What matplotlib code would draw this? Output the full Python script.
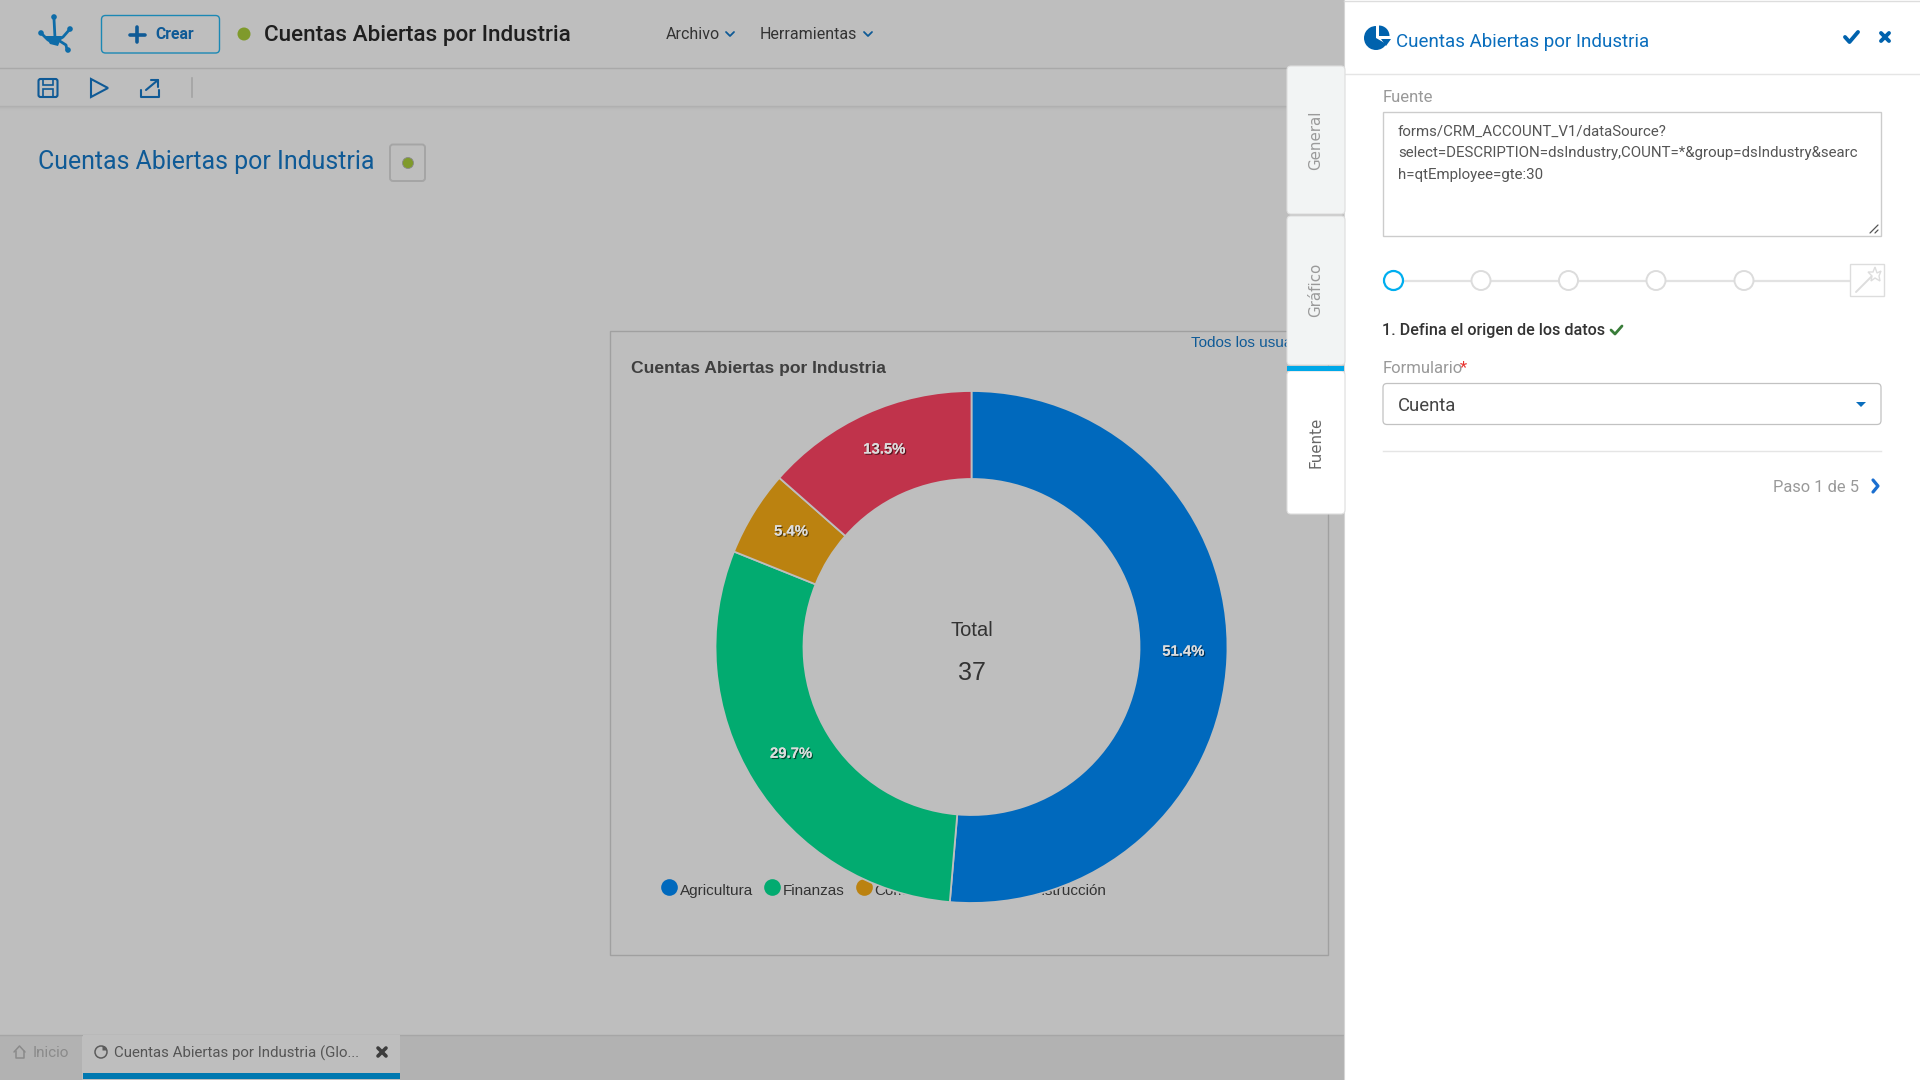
import matplotlib
matplotlib.use("Agg")
import matplotlib.pyplot as plt
import matplotlib.patheffects as pe
from matplotlib.lines import Line2D
from matplotlib.patches import Circle, FancyBboxPatch, Polygon, Rectangle, Wedge

plt.rcParams["font.family"] = ["Roboto", "DejaVu Sans"]

# chart data
industries = ["Agricultura", "Finanzas", "Comunicaciones", "Construcción"]
accounts = [19, 11, 2, 5]
slice_colors = ["#0069bd", "#02ab70", "#bb8210", "#c0334b"]
chart_title = "Cuentas Abiertas por Industria"
total_label = "Total"

# panel text
source_lines = [
    "forms/CRM_ACCOUNT_V1/dataSource?",
    "select=DESCRIPTION=dsIndustry,COUNT=*&group=dsIndustry&searc",
    "h=qtEmployee=gte:30",
]
side_tabs = ["General", "Gráfico", "Fuente"]

DIM = "#bebebe"
fig = plt.figure(figsize=(19.2, 10.8), dpi=100, facecolor=DIM)


def pixel_axes(z):
    ax = fig.add_axes([0, 0, 1, 1], zorder=z)
    ax.set_xlim(0, 1920)
    ax.set_ylim(1080, 0)
    ax.axis("off")
    ax.patch.set_alpha(0)
    return ax


def box(ax, x0, y0, x1, y1, fc="none", ec="none", lw=1.0, r=0, z=2):
    if r:
        p = FancyBboxPatch((x0 + r, y0 + r), x1 - x0 - 2 * r, y1 - y0 - 2 * r,
                           boxstyle=f"round,pad={r}", fc=fc, ec=ec, lw=lw, zorder=z)
    else:
        p = Rectangle((x0, y0), x1 - x0, y1 - y0, fc=fc, ec=ec, lw=lw, zorder=z)
    ax.add_patch(p)


def stroke(ax, xs, ys, color, lw=1.5, z=4):
    ax.plot(xs, ys, color=color, lw=lw, zorder=z, solid_capstyle="round",
            solid_joinstyle="round")


def label(ax, x, y, s, size, color, ha="left", weight="normal", family=None, rot=0, z=5):
    kw = {"family": family} if family else {}
    return ax.text(x, y, s, fontsize=size, color=color, ha=ha, va="center",
                   fontweight=weight, rotation=rot, zorder=z, **kw)


def dot(ax, x, y, r, fc, ec="none", lw=1.0, z=4):
    ax.add_patch(Circle((x, y), r, fc=fc, ec=ec, lw=lw, zorder=z))


back = pixel_axes(0)

# top bar
back.plot([0, 1344], [68, 68], color="#a9a9a9", lw=1)
for i, c in enumerate(["#b0b0b0", "#b5b5b5", "#b9b9b9", "#bcbcbc"]):
    back.plot([0, 1344], [106 + i, 106 + i], color=c, lw=1)

# logo
logo_blue = "#0e6ca8"
stroke(back, [54, 55, 66, 67], [19, 38, 45, 50], logo_blue, 2)
stroke(back, [41, 48, 55, 63, 70], [33, 40, 42, 37, 29], logo_blue, 2)
back.add_patch(Polygon([[45, 36], [62, 36], [58, 46], [50, 44]], fc=logo_blue, ec="none", zorder=4))
for lx, ly, lr in [(54, 17, 2.8), (70, 29, 2.8), (41, 33, 2.8), (68, 50, 2.8)]:
    dot(back, lx, ly, lr, logo_blue)

# crear button
box(back, 101.5, 15.5, 219.5, 53, ec="#1b88b4", lw=1.0, r=4)
stroke(back, [137, 137], [27, 42], "#0f5a96", 2.6)
stroke(back, [130, 145], [34.5, 34.5], "#0f5a96", 2.6)
label(back, 155, 34.5, "Crear", 11.3, "#0f5a96", weight="bold")
dot(back, 244, 34, 6.5, "#7f9a2b")
label(back, 264, 35, chart_title, 16.2, "#1f1f1f", weight="medium")
label(back, 666, 34.5, "Archivo", 11.5, "#333333")
label(back, 760, 34.5, "Herramientas", 11.5, "#333333")
for cx in (730, 868):
    stroke(back, [cx - 4, cx, cx + 4], [32, 36, 32], "#0f5a96", 1.3)

# toolbar icons
tb = "#0f5a96"
box(back, 38.5, 79, 57.5, 97, ec=tb, lw=1.5, r=2)
box(back, 43, 79, 53, 85, ec=tb, lw=1.2)
box(back, 43, 89, 53, 97, ec=tb, lw=1.2)
back.add_patch(Polygon([[91, 79], [91, 97], [108, 88]], fc="none", ec=tb, lw=1.5, zorder=4))
stroke(back, [141, 141, 159, 159], [90, 97, 97, 90], tb, 1.5)
stroke(back, [146, 158], [90, 80], tb, 1.5)
stroke(back, [151, 158, 158], [80, 80, 87], tb, 1.5)
back.plot([192, 192], [78, 97], color="#a3a3a3", lw=1.2)

# page heading
label(back, 38.5, 161.5, chart_title, 17.95, "#0f5a96")
box(back, 390, 144.5, 425, 181, ec="#a5a5a5", lw=1.4, r=3)
dot(back, 408, 163, 5.5, "#7f9a2b", ec="#8a8a8a", lw=0.6)

# chart card
box(back, 610, 331, 1328, 955, ec="#a0a0a0", lw=1)
label(back, 631, 369, chart_title, 12.6, "#3f3f3f", weight="bold", family="Liberation Sans")
label(back, 1191, 343, "Todos los usuarios", 11, "#0f5a96", family="Liberation Sans")

# legend sits behind the donut, as in the app
handles = [Line2D([], [], ls="none", marker="o", ms=12, mfc=c, mec="none") for c in slice_colors]
leg = back.legend(handles, industries, ncol=4, frameon=False, loc="center left",
                  bbox_to_anchor=(657 / 1920, 1 - 891 / 1080), bbox_transform=fig.transFigure,
                  prop={"family": "Liberation Sans", "size": 11}, labelcolor="#333333",
                  handletextpad=-0.1, columnspacing=0.45, borderpad=0, borderaxespad=0, handlelength=1.6)
for h in leg.legend_handles:
    h.set_ydata([y + 2.2 for y in h.get_ydata()])

# bottom tab strip
box(back, 0, 1035, 82, 1080, fc="#b2b2b2", z=1)
box(back, 400, 1035, 1344, 1080, fc="#b2b2b2", z=1)
back.plot([0, 1344], [1035, 1035], color="#a6a6a6", lw=1, zorder=1)
box(back, 82.5, 1035, 400, 1073, fc=DIM, z=1)
box(back, 82.5, 1073, 400, 1079, fc="#0078b0", z=2)
stroke(back, [14, 19.5, 25], [1052, 1046, 1052], "#8a8a8a", 1.1)
stroke(back, [15.5, 15.5, 23.5, 23.5], [1051, 1058, 1058, 1051], "#8a8a8a", 1.1)
label(back, 33, 1053, "Inicio", 11, "#8a8a8a")
back.add_patch(Circle((101, 1052), 6, fc="none", ec="#5c5c5c", lw=1.1, zorder=4))
back.add_patch(Wedge((102.5, 1050.5), 4.8, 270, 360, fc="#5c5c5c", ec="none", zorder=4))
label(back, 114.5, 1053, "Cuentas Abiertas por Industria (Glo...", 10.8, "#555555")
stroke(back, [378, 386], [1048, 1056], "#3d3d3d", 2.6)
stroke(back, [386, 378], [1048, 1056], "#3d3d3d", 2.6)

# donut
R = 256
pad = 1.05
ax = fig.add_axes([(971.5 - R * pad) / 1920, 1 - (647 + R * pad) / 1080,
                   2 * R * pad / 1920, 2 * R * pad / 1080], zorder=1)
wedges, _, pct_texts = ax.pie(
    accounts, colors=slice_colors, startangle=90, counterclock=False, radius=1,
    autopct="%.1f%%", pctdistance=0.828,
    wedgeprops={"width": 88 / R, "edgecolor": DIM, "linewidth": 1.3},
    textprops={"family": "Liberation Sans", "fontweight": "bold", "fontsize": 10.7, "color": "#dcdcdc"},
)
shadow = [pe.withSimplePatchShadow(offset=(0.9, -0.9), shadow_rgbFace="#000000", alpha=0.55),
          pe.Normal()]
for t in pct_texts:
    t.set_y(t.get_position()[1] + 0.017)
    t.set_path_effects(shadow)
ax.set_xlim(-pad, pad)
ax.set_ylim(-pad, pad)
ax.patch.set_alpha(0)
ax.text(0, 17 / R, total_label, ha="center", va="center", fontsize=14.5, color="#333333",
        family="Liberation Sans")
ax.text(0, -25.5 / R, str(sum(accounts)), ha="center", va="center", fontsize=18, color="#333333",
        family="Liberation Sans")

# right panel, drawn above everything
top = pixel_axes(2)
box(top, 1344, 0, 1920, 1080, fc="white", z=1)
top.plot([1344, 1920], [0.5, 0.5], color="#dddddd", lw=1, zorder=2)
top.plot([1344, 1344], [0, 1080], color="#d5d5d5", lw=0.8, zorder=2)

# side tabs
box(top, 1287, 66, 1345, 214, fc="#f2f4f4", ec="#dedede", lw=0.8, r=4, z=3)
box(top, 1287, 216, 1345, 365, fc="#f2f4f4", ec="#dedede", lw=0.8, r=4, z=3)
box(top, 1287, 371, 1345, 514, fc="white", ec="#dedede", lw=0.8, r=4, z=3)
box(top, 1287, 366, 1344, 371, fc="#00a8e8", z=4)
for name, ty, col in zip(side_tabs, [140, 290, 442], ["#9a9a9a", "#9a9a9a", "#666666"]):
    label(top, 1315.5, ty, name, 10.8, col, ha="center", rot=90, family="DejaVu Sans")

# panel header
blue = "#0a6ebd"
top.add_patch(Wedge((1376, 38), 12, 30, 270, fc="#0062ad", ec="none", zorder=4))
top.add_patch(Wedge((1379, 36), 10.5, 270, 360, fc="#0062ad", ec="none", zorder=4))
top.add_patch(Polygon([[1381, 39], [1391, 39], [1386, 46]], fc="#0062ad", ec="none", zorder=4))
label(top, 1395.5, 42, chart_title, 13.5, blue)
stroke(top, [1845, 1849.5, 1858], [37, 42, 32], "#0062ad", 2.8)
stroke(top, [1881, 1889], [33, 41], "#0062ad", 2.8)
stroke(top, [1889, 1881], [33, 41], "#0062ad", 2.8)
top.plot([1345, 1920], [74, 74], color="#e5e5e5", lw=1, zorder=2)

# source box
label(top, 1382.5, 97, "Fuente", 12, "#999999")
box(top, 1383, 112, 1881, 236, ec="#cccccc", lw=1, z=3)
for line, ly in zip(source_lines, [132, 153, 175]):
    label(top, 1398, ly, line, 10.8, "#555555")
stroke(top, [1870, 1878], [233, 225], "#555555", 0.9)
stroke(top, [1875, 1878], [233, 230], "#555555", 0.9)

# stepper
top.plot([1393, 1851], [280.5, 280.5], color="#e2e2e2", lw=1.6, zorder=3)
for i, sx in enumerate([1393.5, 1481, 1568.5, 1656, 1744]):
    dot(top, sx, 280.5, 9.5, "white", ec="#00aeef" if i == 0 else "#dcdcdc", lw=1.6 if i == 0 else 1.4)
box(top, 1850, 264, 1883.5, 296, fc="white", ec="#dddddd", lw=1, z=4)
stroke(top, [1856, 1872], [292, 276], "#dddddd", 1.4, z=5)
top.add_patch(Polygon([[1875, 267], [1877, 273], [1881, 271], [1879, 276], [1880, 281],
                       [1875, 278], [1871, 281], [1872, 276], [1868, 272], [1873, 272]],
                      fc="white", ec="#dddddd", lw=1, zorder=5))

# step body
label(top, 1382.5, 330.5, "1. Defina el origen de los datos", 11.6, "#333333", weight="medium")
stroke(top, [1611, 1615, 1622], [330, 334, 326], "#3a7d3a", 2)
label(top, 1382.5, 368.5, "Formulario", 12, "#999999")
label(top, 1463.5, 367.5, "*", 12, "#e8322e", ha="center")
box(top, 1383, 383.5, 1881, 424.5, fc="white", ec="#c2c2c2", lw=0.9, r=4, z=3)
label(top, 1398, 406, "Cuenta", 13.3, "#444444")
top.add_patch(Polygon([[1856, 402], [1866, 402], [1861, 407]], fc=blue, ec="none", zorder=5))
top.plot([1383, 1881], [451, 451], color="#e5e5e5", lw=1, zorder=3)
label(top, 1859, 487.5, "Paso 1 de 5", 11.8, "#999999", ha="right")
stroke(top, [1873, 1878, 1873], [480, 486, 492], "#1b6fd0", 2.3)

fig.savefig("out.png", dpi=100, facecolor=DIM)
